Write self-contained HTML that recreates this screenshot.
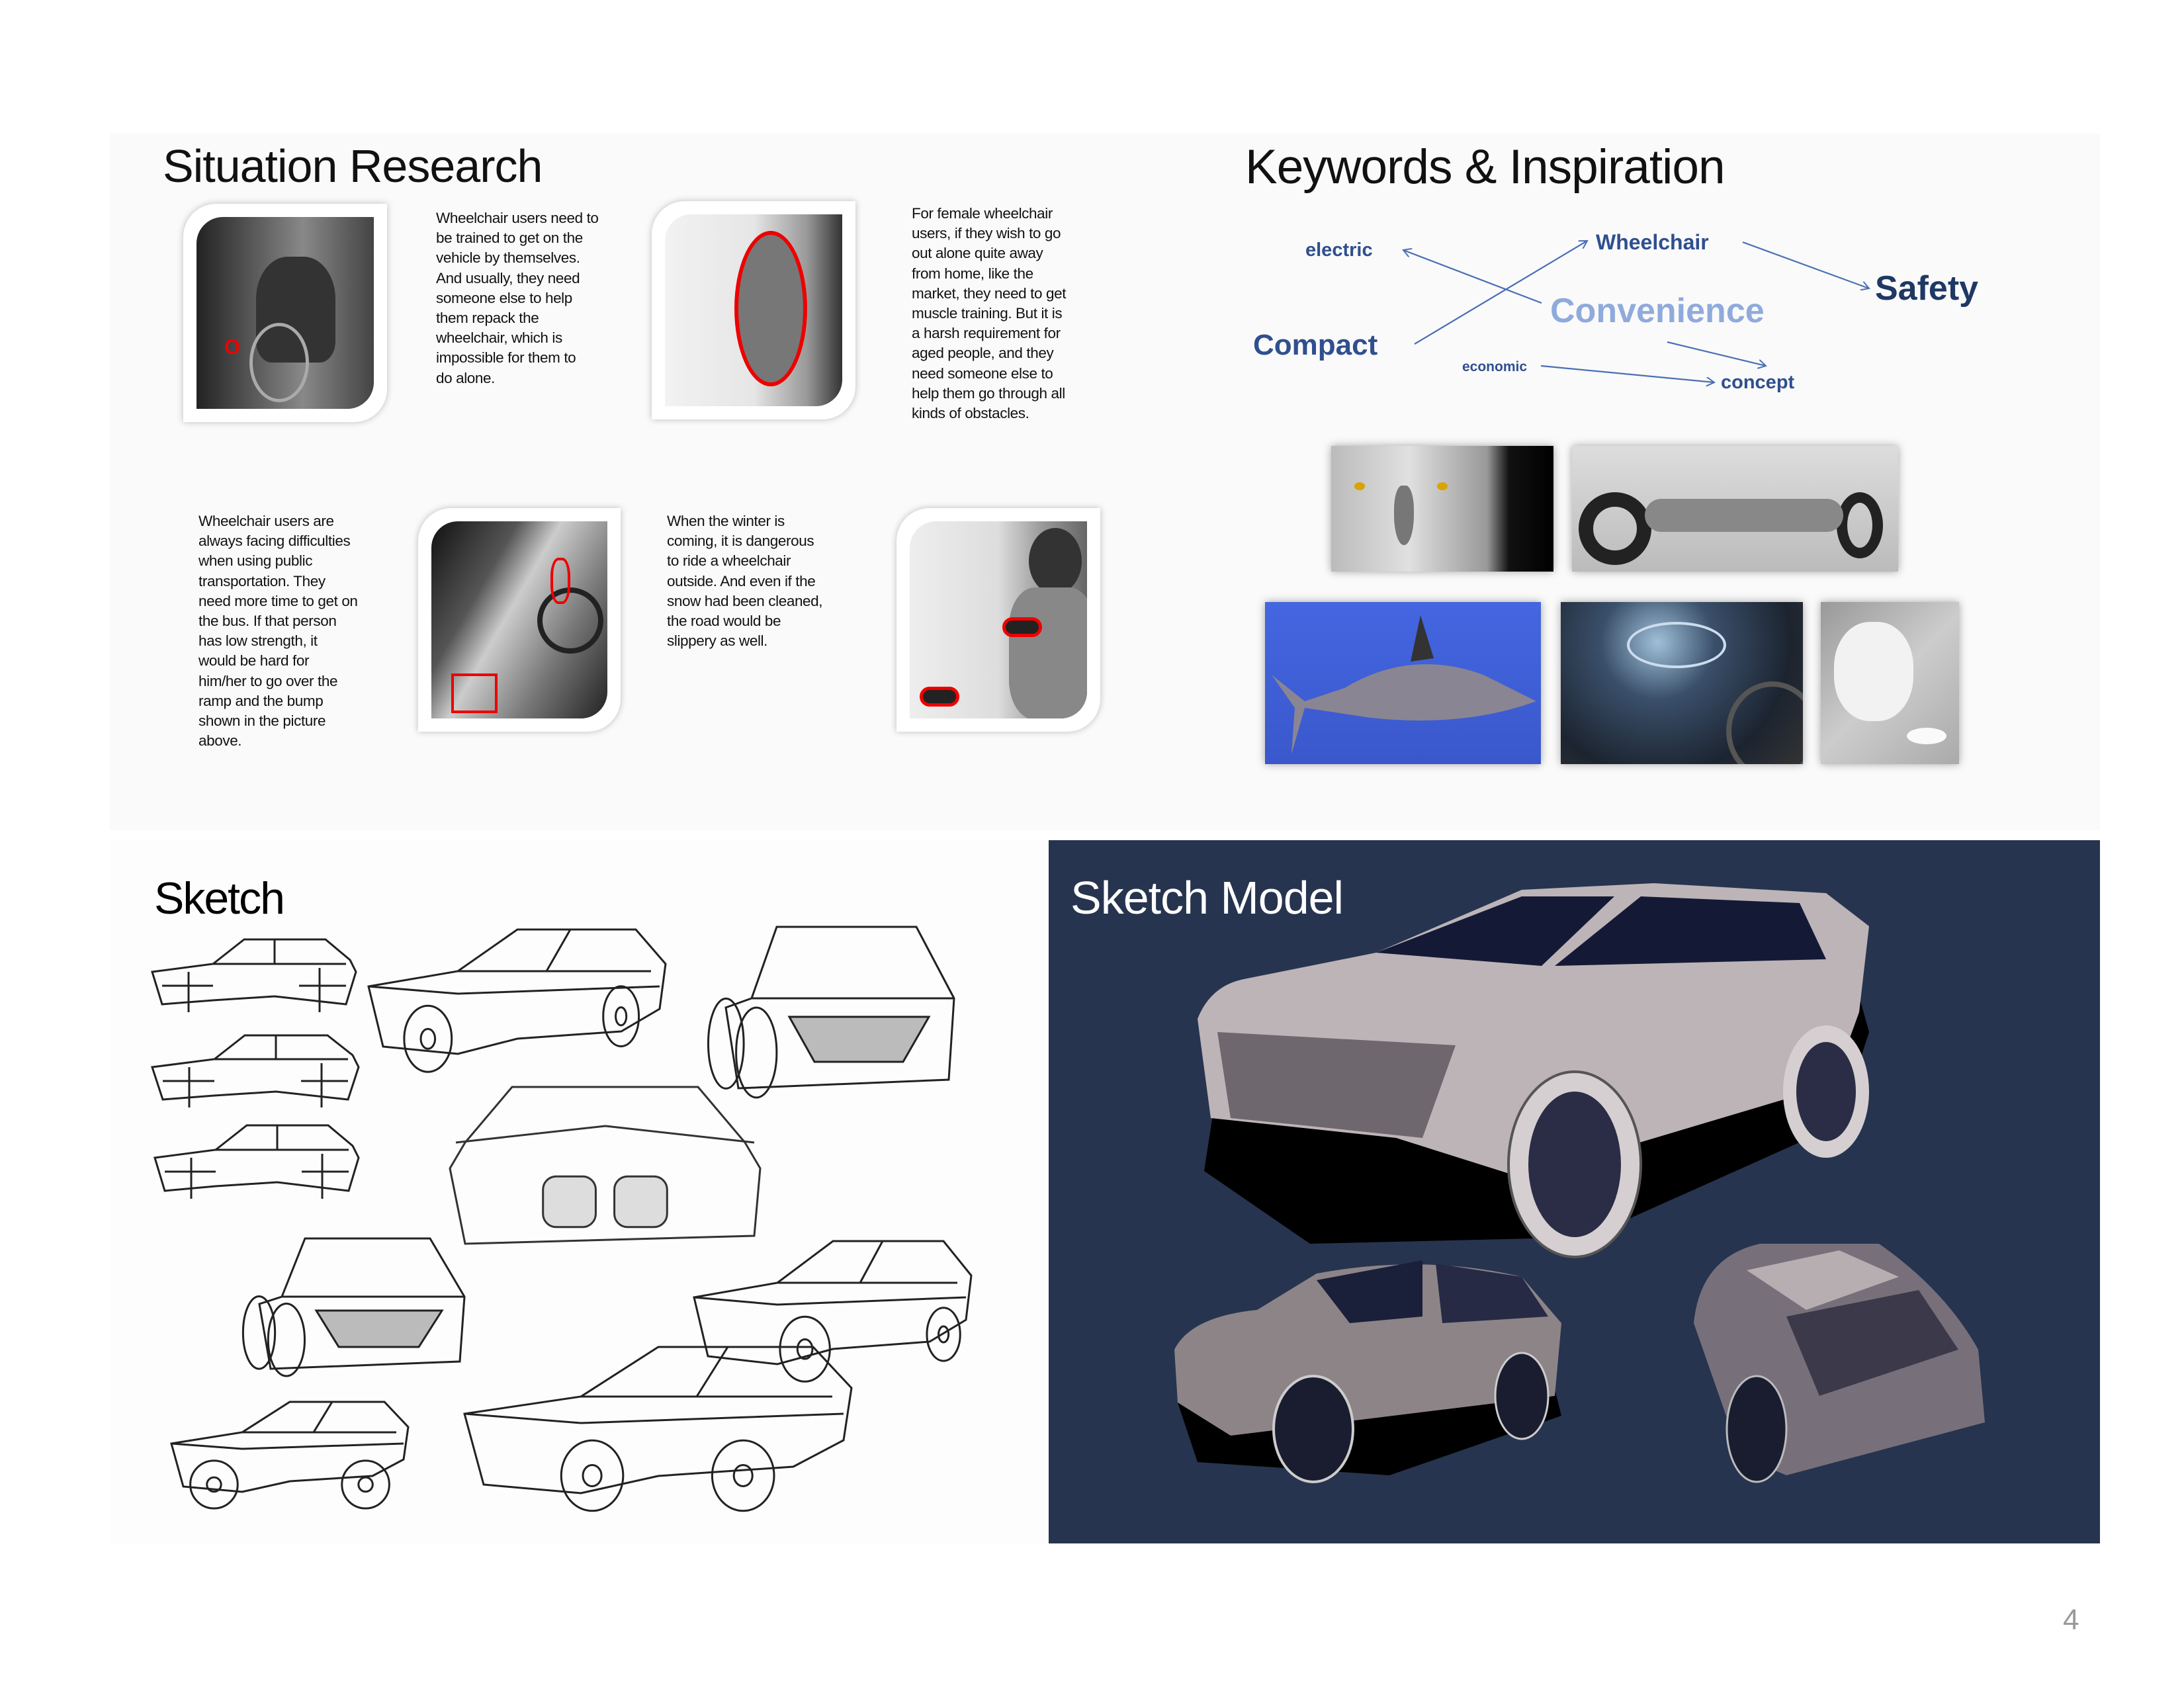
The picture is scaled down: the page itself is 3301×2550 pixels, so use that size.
<!DOCTYPE html>
<html><head><meta charset="utf-8">
<style>
*{margin:0;padding:0;box-sizing:border-box}
body{width:3301px;height:2550px;background:#fff;position:relative;overflow:hidden;font-family:"Liberation Sans",sans-serif}
.abs{position:absolute}
.title{position:absolute;font-size:70px;color:#111;letter-spacing:-1px;line-height:1}
.para{position:absolute;font-size:22.5px;line-height:30.2px;color:#111;letter-spacing:-0.4px;white-space:nowrap}
.frame{position:absolute;background:#fff;border-radius:50px 0 50px 0;box-shadow:0 0 10px rgba(0,0,0,.25)}
.photo{position:absolute;left:20px;top:20px;right:20px;bottom:20px;border-radius:40px 0 40px 0;overflow:hidden}
.kw{position:absolute;color:#2f4f8f;font-weight:bold;line-height:1;white-space:nowrap}
.insp{position:absolute;box-shadow:0 0 12px rgba(0,0,0,.35);overflow:hidden}
</style></head>
<body>
<div class="abs" style="left:166px;top:202px;width:3008px;height:1053px;background:#fafafa"></div>
<div class="abs" style="left:166px;top:1270px;width:1419px;height:1063px;background:#fdfdfd"></div>
<div class="abs" style="left:1585px;top:1270px;width:1589px;height:1063px;background:#27344f"></div>

<div class="title" style="left:246px;top:216px">Situation Research</div>
<div class="title" style="left:1882px;top:216px;font-size:73px">Keywords &amp; Inspiration</div>

<div class="frame" style="left:277px;top:308px;width:308px;height:330px">
 <div class="photo" style="background:linear-gradient(90deg,#222 0%,#555 30%,#888 60%,#444 100%)">
  <div class="abs" style="left:90px;top:60px;width:120px;height:160px;background:#333;border-radius:40% 40% 20% 20%"></div>
  <div class="abs" style="left:80px;top:160px;width:90px;height:120px;border:5px solid #aaa;border-radius:50%"></div>
  <div class="abs" style="left:44px;top:185px;width:20px;height:22px;border:4px solid #e00;border-radius:40%"></div>
 </div></div>
<div class="frame" style="left:985px;top:304px;width:308px;height:330px">
 <div class="photo" style="background:linear-gradient(90deg,#f2f2f2 0%,#e6e6e6 50%,#999 80%,#333 100%)">
  <div class="abs" style="left:105px;top:25px;width:110px;height:235px;border:6px solid #e00;border-radius:50%;background:#777"></div>
 </div></div>
<div class="frame" style="left:632px;top:768px;width:306px;height:338px">
 <div class="photo" style="background:linear-gradient(120deg,#111 0%,#555 30%,#ccc 45%,#777 70%,#222 100%)">
  <div class="abs" style="left:160px;top:100px;width:100px;height:100px;border:8px solid #222;border-radius:50%"></div>
  <div class="abs" style="left:180px;top:55px;width:30px;height:70px;border:4px solid #e00;border-radius:40%"></div>
  <div class="abs" style="left:30px;top:230px;width:70px;height:60px;border:4px solid #e00"></div>
 </div></div>
<div class="frame" style="left:1355px;top:768px;width:308px;height:338px">
 <div class="photo" style="background:linear-gradient(90deg,#eee 0%,#ddd 50%,#999 75%,#666 100%)">
  <div class="abs" style="left:180px;top:10px;width:80px;height:100px;background:#333;border-radius:50%"></div>
  <div class="abs" style="left:150px;top:100px;width:130px;height:200px;background:#888;border-radius:30%"></div>
  <div class="abs" style="left:140px;top:145px;width:60px;height:30px;border:5px solid #e00;border-radius:15px;background:#222"></div>
  <div class="abs" style="left:15px;top:250px;width:60px;height:30px;border:5px solid #e00;border-radius:15px;background:#222"></div>
 </div></div>

<div class="para" style="left:659px;top:315px">Wheelchair users need to<br>be trained to get on the<br>vehicle by themselves.<br>And usually, they need<br>someone else to help<br>them repack the<br>wheelchair, which is<br>impossible for them to<br>do alone.</div>
<div class="para" style="left:1378px;top:308px">For female wheelchair<br>users, if they wish to go<br>out alone quite away<br>from home, like the<br>market, they need to get<br>muscle training. But it is<br>a harsh requirement for<br>aged people, and they<br>need someone else to<br>help them go through all<br>kinds of obstacles.</div>
<div class="para" style="left:300px;top:773px">Wheelchair users are<br>always facing difficulties<br>when using public<br>transportation. They<br>need more time to get on<br>the bus. If that person<br>has low strength, it<br>would be hard for<br>him/her to go over the<br>ramp and the bump<br>shown in the picture<br>above.</div>
<div class="para" style="left:1008px;top:773px">When the winter is<br>coming, it is dangerous<br>to ride a wheelchair<br>outside. And even if the<br>snow had been cleaned,<br>the road would be<br>slippery as well.</div>

<svg class="abs" style="left:0;top:0" width="3301" height="1255">
 <defs><marker id="ah" markerWidth="14" markerHeight="14" refX="12" refY="7" orient="auto" markerUnits="userSpaceOnUse"><path d="M0,0 L12,7 L0,14" fill="none" stroke="#4a6fb5" stroke-width="2"/></marker></defs>
 <g stroke="#4a6fb5" stroke-width="2.2" fill="none" marker-end="url(#ah)">
  <line x1="2330" y1="458" x2="2121" y2="378"/>
  <line x1="2138" y1="520" x2="2399" y2="364"/>
  <line x1="2634" y1="366" x2="2825" y2="436"/>
  <line x1="2520" y1="517" x2="2669" y2="553"/>
  <line x1="2329" y1="553" x2="2591" y2="578"/>
 </g>
</svg>
<div class="kw" style="left:1973px;top:364px;font-size:29px">electric</div>
<div class="kw" style="left:2412px;top:350px;font-size:32px">Wheelchair</div>
<div class="kw" style="left:2834px;top:410px;font-size:52px;color:#1f3864">Safety</div>
<div class="kw" style="left:2343px;top:444px;font-size:52px;color:#8faadc">Convenience</div>
<div class="kw" style="left:1894px;top:500px;font-size:44px">Compact</div>
<div class="kw" style="left:2210px;top:544px;font-size:21px">economic</div>
<div class="kw" style="left:2601px;top:564px;font-size:29px">concept</div>

<div class="insp" style="left:2012px;top:674px;width:336px;height:190px;background:linear-gradient(90deg,#bbb 0%,#e0e0e0 35%,#999 70%,#111 80%,#000 100%)">
 <div class="abs" style="left:35px;top:55px;width:16px;height:12px;background:#d9a400;border-radius:50%"></div>
 <div class="abs" style="left:160px;top:55px;width:16px;height:12px;background:#d9a400;border-radius:50%"></div>
 <div class="abs" style="left:95px;top:60px;width:30px;height:90px;background:#777;border-radius:40% 40% 50% 50%"></div></div>
<div class="insp" style="left:2376px;top:674px;width:493px;height:190px;background:linear-gradient(180deg,#ddd,#bbb)">
 <div class="abs" style="left:10px;top:70px;width:110px;height:110px;border:22px solid #222;border-radius:50%"></div>
 <div class="abs" style="left:400px;top:70px;width:70px;height:100px;border:16px solid #222;border-radius:50%"></div>
 <div class="abs" style="left:110px;top:80px;width:300px;height:50px;background:#888;border-radius:30px"></div></div>
<div class="insp" style="left:1912px;top:910px;width:417px;height:245px;background:linear-gradient(180deg,#4466e0,#3a58cc)">
 <svg width="417" height="245"><path d="M10,110 L60,150 L120,130 Q220,70 330,110 L410,150 Q300,190 160,175 L60,160 L40,230 L45,160 Z" fill="#8a8592"/><path d="M220,90 L235,20 L255,85 Z" fill="#333"/></svg></div>
<div class="insp" style="left:2359px;top:910px;width:366px;height:245px;background:radial-gradient(circle at 40% 25%,#9fc0d8 0%,#3a4f6a 30%,#1c2430 70%,#333 100%)">
 <div class="abs" style="left:100px;top:30px;width:150px;height:70px;border:4px solid #cde;border-radius:50%"></div>
 <div class="abs" style="left:250px;top:120px;width:140px;height:150px;border:8px solid #555;border-radius:50%"></div></div>
<div class="insp" style="left:2752px;top:910px;width:209px;height:245px;background:linear-gradient(135deg,#999,#ccc 50%,#aaa)">
 <div class="abs" style="left:20px;top:30px;width:120px;height:150px;background:#f2f2f2;border-radius:45%"></div>
 <div class="abs" style="left:130px;top:190px;width:60px;height:25px;background:#fafafa;border-radius:50%"></div></div>

<div class="title" style="left:233px;top:1324px;font-size:68px;color:#000;letter-spacing:-2px">Sketch</div>
<svg class="abs" id="sketches" style="left:0;top:0" width="3301" height="2550"></svg>

<div class="title" style="left:1618px;top:1322px;font-size:70px;color:#fff">Sketch Model</div>
<svg class="abs" style="left:0;top:0" width="3301" height="2550">
 <g>
  <path d="M1820,1770 L1840,1640 L2000,1570 L2450,1460 L2650,1440 L2800,1470 L2825,1560 L2780,1700 L2400,1870 L1980,1880 Z" fill="#000"/>
  <path d="M1810,1540 Q1830,1490 1880,1480 L2080,1440 L2300,1345 L2500,1335 L2760,1350 L2825,1400 L2810,1530 L2770,1640 L2300,1780 L2110,1720 L1830,1690 Z" fill="#bdb4b8"/>
  <path d="M2080,1440 L2300,1355 L2440,1355 L2330,1460 Z" fill="#141a36"/>
  <path d="M2350,1460 L2480,1355 L2720,1365 L2760,1450 Z" fill="#141a36"/>
  <path d="M1840,1560 L1860,1690 L1960,1700 L2150,1720 L2200,1580 Z" fill="#6e676e"/>
  <ellipse cx="2380" cy="1760" rx="100" ry="140" fill="#d6cfd2" stroke="#555" stroke-width="4"/>
  <ellipse cx="2380" cy="1760" rx="70" ry="110" fill="#2a2d45"/>
  <ellipse cx="2760" cy="1650" rx="65" ry="100" fill="#d6cfd2"/>
  <ellipse cx="2760" cy="1650" rx="45" ry="75" fill="#2a2d45"/>
 </g>
 <g>
  <path d="M1780,2120 L1810,2210 L2100,2230 L2360,2140 L2340,2060 Z" fill="#000"/>
  <path d="M1775,2040 Q1800,1990 1900,1980 L1990,1925 Q2150,1895 2300,1930 L2360,2000 L2350,2110 L1860,2170 L1780,2120 Z" fill="#8d8488"/>
  <path d="M1990,1935 L2150,1905 L2150,1990 L2040,2000 Z" fill="#1a1f3a"/>
  <path d="M2170,1910 L2300,1930 L2340,1990 L2180,2000 Z" fill="#262a45"/>
  <ellipse cx="1985" cy="2160" rx="60" ry="80" fill="#1a1d30" stroke="#ccc" stroke-width="4"/>
  <ellipse cx="2300" cy="2110" rx="40" ry="65" fill="#1a1d30" stroke="#ccc" stroke-width="3"/>
 </g>
 <g>
  <path d="M2560,2000 Q2570,1900 2660,1880 L2840,1880 Q2940,1950 2990,2040 L3000,2150 L2700,2230 L2630,2200 Z" fill="#77707a"/>
  <path d="M2640,1920 L2780,1890 L2870,1930 L2730,1980 Z" fill="#b7aeb2"/>
  <path d="M2700,1990 L2900,1950 L2960,2040 L2750,2110 Z" fill="#3c3a4a"/>
  <ellipse cx="2655" cy="2160" rx="45" ry="80" fill="#1a1d30" stroke="#bbb" stroke-width="3"/>
 </g>
</svg>

<div class="abs" style="left:3118px;top:2424px;font-size:44px;color:#999">4</div>

<script>
const svg=document.getElementById('sketches');
const NS='http://www.w3.org/2000/svg';
function add(tag,attrs,parent){const e=document.createElementNS(NS,tag);for(const k in attrs)e.setAttribute(k,attrs[k]);(parent||svg).appendChild(e);return e;}
function sideCar(x,y,w,h,name){
 const g=add('g',{stroke:'#222','stroke-width':3,fill:'none'});
 
 
 const P=(a)=>a.map(p=>(x+p[0]*w).toFixed(0)+','+(y+p[1]*h).toFixed(0)).join(' ');
 add('polygon',{points:P([[0,.45],[.3,.35],[.45,.05],[.85,.05],[.97,.3],[1,.45],[.95,.85],[.6,.75],[.3,.8],[.05,.85]])},g);
 add('polyline',{points:P([[.3,.35],[.95,.35]])},g);
 add('polyline',{points:P([[.6,.05],[.6,.35]])},g);
 add('polyline',{points:P([[.05,.62],[.3,.62]])},g);
 add('polyline',{points:P([[.72,.62],[.95,.62]])},g);
 add('polyline',{points:P([[.18,.45],[.18,.95]])},g);
 add('polyline',{points:P([[.82,.4],[.82,.95]])},g);
}
function car34(x,y,w,h,name,wheels){
 const g=add('g',{stroke:'#222','stroke-width':3,fill:'none'});
 
 
 const P=(a)=>a.map(p=>(x+p[0]*w).toFixed(0)+','+(y+p[1]*h).toFixed(0)).join(' ');
 add('polygon',{points:P([[0,.4],[.3,.3],[.5,.02],[.9,.02],[1,.25],[.98,.55],[.85,.7],[.5,.75],[.3,.85],[.05,.8]])},g);
 add('polyline',{points:P([[.3,.3],[.95,.3]])},g);
 add('polyline',{points:P([[.68,.02],[.6,.3]])},g);
 add('polyline',{points:P([[0,.4],[.3,.45],[.98,.4]])},g);
 wheels.forEach(c=>{add('ellipse',{cx:x+c[0]*w,cy:y+c[1]*h,rx:c[2]*w,ry:c[3]*h},g);
  add('ellipse',{cx:x+c[0]*w,cy:y+c[1]*h,rx:c[2]*w*.3,ry:c[3]*h*.3},g);});
}
function frontCar(x,y,w,h,name){
 const g=add('g',{stroke:'#333','stroke-width':3,fill:'none'});
 
 
 const P=(a)=>a.map(p=>(x+p[0]*w).toFixed(0)+','+(y+p[1]*h).toFixed(0)).join(' ');
 add('polygon',{points:P([[.05,.35],[.2,.02],[.8,.02],[.95,.35],[1,.5],[.98,.9],[.05,.95],[0,.5]])},g);
 add('polyline',{points:P([[.02,.35],[.5,.25],[.98,.35]])},g);
 add('rect',{x:x+.3*w,y:y+.55*h,width:.17*w,height:.3*h,rx:20,fill:'#ddd'},g);
 add('rect',{x:x+.53*w,y:y+.55*h,width:.17*w,height:.3*h,rx:20,fill:'#ddd'},g);
}
function rearCar(x,y,w,h,name){
 const g=add('g',{stroke:'#222','stroke-width':3,fill:'none'});
 
 
 const P=(a)=>a.map(p=>(x+p[0]*w).toFixed(0)+','+(y+p[1]*h).toFixed(0)).join(' ');
 add('polygon',{points:P([[.2,.45],[.3,.05],[.85,.05],[1,.45],[.98,.9],[.15,.95],[.1,.5]])},g);
 add('polyline',{points:P([[.2,.45],[1,.45]])},g);
 add('polygon',{points:P([[.35,.55],[.9,.55],[.8,.8],[.45,.8]]),fill:'#bbb'},g);
 add('ellipse',{cx:x+.1*w,cy:y+.7*h,rx:.07*w,ry:.25*h},g);
 add('ellipse',{cx:x+.22*w,cy:y+.75*h,rx:.08*w,ry:.25*h},g);
}
sideCar(230,1414,308,122,'sketch-side-profile-1');
sideCar(230,1559,312,121,'sketch-side-profile-2');
sideCar(234,1695,308,123,'sketch-side-profile-3');
car34(557,1400,449,227,'sketch-front-three-quarter',[[.2,.75,.08,.22],[.85,.6,.06,.2]]);
rearCar(1059,1387,383,272,'sketch-rear-three-quarter');
frontCar(680,1638,469,255,'sketch-front-view');
rearCar(357,1861,345,219,'sketch-rear-view');
car34(1049,1872,419,223,'sketch-side-three-quarter',[[.4,.75,.09,.22],[.9,.65,.06,.18]]);
car34(259,2116,358,164,'sketch-hatchback',[[.18,.78,.1,.22],[.82,.78,.1,.22]]);
car34(702,2031,585,266,'sketch-ramp-car',[[.33,.75,.08,.2],[.72,.75,.08,.2]]);
</script>
</body></html>
